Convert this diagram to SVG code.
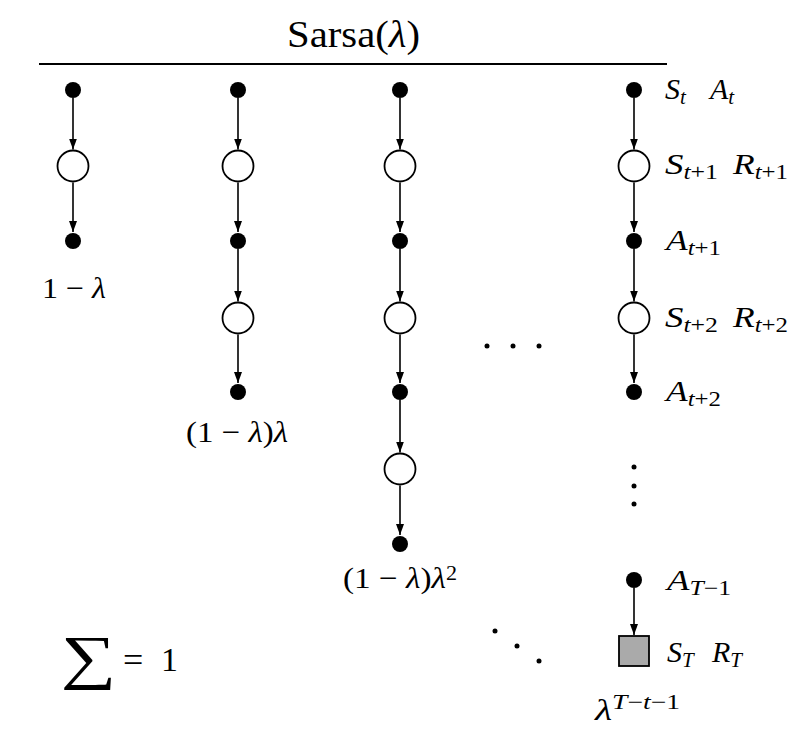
<svg xmlns="http://www.w3.org/2000/svg" width="809" height="739" viewBox="0 0 809 739">
<style>
text{font-family:"Liberation Serif","DejaVu Serif",serif}
.i{font-style:italic}
.lbl{font-size:30px}
.w{font-size:30px}
.sub{font-size:21px;font-style:italic}
.subr{font-size:21px;font-style:normal}
.dot{fill:#000}
.st{fill:#fff;stroke:#000;stroke-width:1.8}
.term{fill:#aaaaaa;stroke:#000;stroke-width:1.8}
.e{stroke:#000;stroke-width:1.6;fill:none;marker-end:url(#ah)}
.pt{fill:#000}
</style>
<defs>
<marker id="ah" markerUnits="userSpaceOnUse" viewBox="0 0 11 8" refX="11" refY="4" markerWidth="11" markerHeight="8" orient="auto">
<path d="M0,0 L11,4 L0,8 Z" fill="#000"/>
</marker>
</defs>
<rect width="809" height="739" fill="#fff"/>

<g id="title">
<text x="287" y="47" font-size="38" textLength="133" lengthAdjust="spacingAndGlyphs">Sarsa(<tspan class="i">λ</tspan>)</text>
<line x1="39" y1="64" x2="667" y2="64" stroke="#000" stroke-width="1.8"/>
</g>

<g id="connectors">
<line class="e" x1="73" y1="98" x2="73" y2="149.5"/>
<line class="e" x1="73" y1="182.5" x2="73" y2="232"/>
<line class="e" x1="238" y1="98" x2="238" y2="149.5"/>
<line class="e" x1="238" y1="182.5" x2="238" y2="232"/>
<line class="e" x1="238" y1="249" x2="238" y2="301.5"/>
<line class="e" x1="238" y1="334.5" x2="238" y2="383"/>
<line class="e" x1="400" y1="98" x2="400" y2="149.5"/>
<line class="e" x1="400" y1="182.5" x2="400" y2="232"/>
<line class="e" x1="400" y1="249" x2="400" y2="301.5"/>
<line class="e" x1="400" y1="334.5" x2="400" y2="383"/>
<line class="e" x1="400" y1="400" x2="400" y2="452.5"/>
<line class="e" x1="400" y1="485.5" x2="400" y2="535"/>
<line class="e" x1="634" y1="98" x2="634" y2="149.5"/>
<line class="e" x1="634" y1="182.5" x2="634" y2="232"/>
<line class="e" x1="634" y1="249" x2="634" y2="301.5"/>
<line class="e" x1="634" y1="334.5" x2="634" y2="383"/>
<line class="e" x1="634" y1="588" x2="634" y2="635"/>
</g>

<g id="col1">
<circle class="dot" cx="73" cy="90" r="8"/>
<circle class="st" cx="73" cy="166" r="15.5"/>
<circle class="dot" cx="73" cy="241" r="8"/>
<text class="w" x="42" y="298" textLength="64" lengthAdjust="spacingAndGlyphs">1 − <tspan class="i">λ</tspan></text>
</g>

<g id="col2">
<circle class="dot" cx="238" cy="90" r="8"/>
<circle class="st" cx="238" cy="166" r="15.5"/>
<circle class="dot" cx="238" cy="241" r="8"/>
<circle class="st" cx="238" cy="318" r="15.5"/>
<circle class="dot" cx="238" cy="392" r="8"/>
<text class="w" x="186" y="442" textLength="102" lengthAdjust="spacingAndGlyphs">(1 − <tspan class="i">λ</tspan>)<tspan class="i">λ</tspan></text>
</g>

<g id="col3">
<circle class="dot" cx="400" cy="90" r="8"/>
<circle class="st" cx="400" cy="166" r="15.5"/>
<circle class="dot" cx="400" cy="241" r="8"/>
<circle class="st" cx="400" cy="318" r="15.5"/>
<circle class="dot" cx="400" cy="392" r="8"/>
<circle class="st" cx="400" cy="469" r="15.5"/>
<circle class="dot" cx="400" cy="544" r="8"/>
<text class="w" x="343" y="588" textLength="114" lengthAdjust="spacingAndGlyphs">(1 − <tspan class="i">λ</tspan>)<tspan class="i">λ</tspan><tspan font-size="20" dy="-8">2</tspan></text>
</g>

<g id="col4">
<circle class="dot" cx="634" cy="90" r="8"/>
<circle class="st" cx="634" cy="166" r="15.5"/>
<circle class="dot" cx="634" cy="241" r="8"/>
<circle class="st" cx="634" cy="318" r="15.5"/>
<circle class="dot" cx="634" cy="392" r="8"/>
<circle class="pt" cx="634" cy="467" r="2.5"/>
<circle class="pt" cx="634" cy="486" r="2.5"/>
<circle class="pt" cx="634" cy="504" r="2.5"/>
<circle class="dot" cx="634" cy="580" r="8"/>
<rect class="term" x="619" y="636" width="30" height="30"/>
<text class="w" x="595" y="720" textLength="85" lengthAdjust="spacingAndGlyphs"><tspan class="i">λ</tspan><tspan class="sub" dy="-11">T</tspan><tspan class="subr">−</tspan><tspan class="sub">t</tspan><tspan class="subr">−1</tspan></text>
</g>

<g id="labels">
<text class="lbl i" x="665" y="99">S<tspan class="sub" dy="5">t</tspan></text>
<text class="lbl i" x="710" y="99">A<tspan class="sub" dy="5">t</tspan></text>
<text class="lbl i" x="665" y="174" textLength="53" lengthAdjust="spacingAndGlyphs">S<tspan class="sub" dy="5">t</tspan><tspan class="subr">+1</tspan></text>
<text class="lbl i" x="733" y="174" textLength="55" lengthAdjust="spacingAndGlyphs">R<tspan class="sub" dy="5">t</tspan><tspan class="subr">+1</tspan></text>
<text class="lbl i" x="666" y="250" textLength="55" lengthAdjust="spacingAndGlyphs">A<tspan class="sub" dy="5">t</tspan><tspan class="subr">+1</tspan></text>
<text class="lbl i" x="665" y="327" textLength="53" lengthAdjust="spacingAndGlyphs">S<tspan class="sub" dy="5">t</tspan><tspan class="subr">+2</tspan></text>
<text class="lbl i" x="733" y="327" textLength="55" lengthAdjust="spacingAndGlyphs">R<tspan class="sub" dy="5">t</tspan><tspan class="subr">+2</tspan></text>
<text class="lbl i" x="666" y="401" textLength="55" lengthAdjust="spacingAndGlyphs">A<tspan class="sub" dy="5">t</tspan><tspan class="subr">+2</tspan></text>
<text class="lbl i" x="667" y="590" textLength="64" lengthAdjust="spacingAndGlyphs">A<tspan class="sub" dy="5">T</tspan><tspan class="subr">−1</tspan></text>
<text class="lbl i" x="667" y="662">S<tspan class="sub" dy="5">T</tspan></text>
<text class="lbl i" x="712" y="662">R<tspan class="sub" dy="5">T</tspan></text>
</g>

<g id="ellipses">
<circle class="pt" cx="487" cy="346" r="2.5"/>
<circle class="pt" cx="513" cy="346" r="2.5"/>
<circle class="pt" cx="539" cy="346" r="2.5"/>
<circle class="pt" cx="495" cy="631" r="2.5"/>
<circle class="pt" cx="517" cy="646" r="2.5"/>
<circle class="pt" cx="539" cy="661" r="2.5"/>
</g>

<g id="sum">
<text x="0" y="0" font-size="60" transform="translate(61,677) scale(1.3,1)">∑</text>
<text x="123" y="672" font-size="36">=</text>
<text x="161" y="671" font-size="34">1</text>
</g>
</svg>
